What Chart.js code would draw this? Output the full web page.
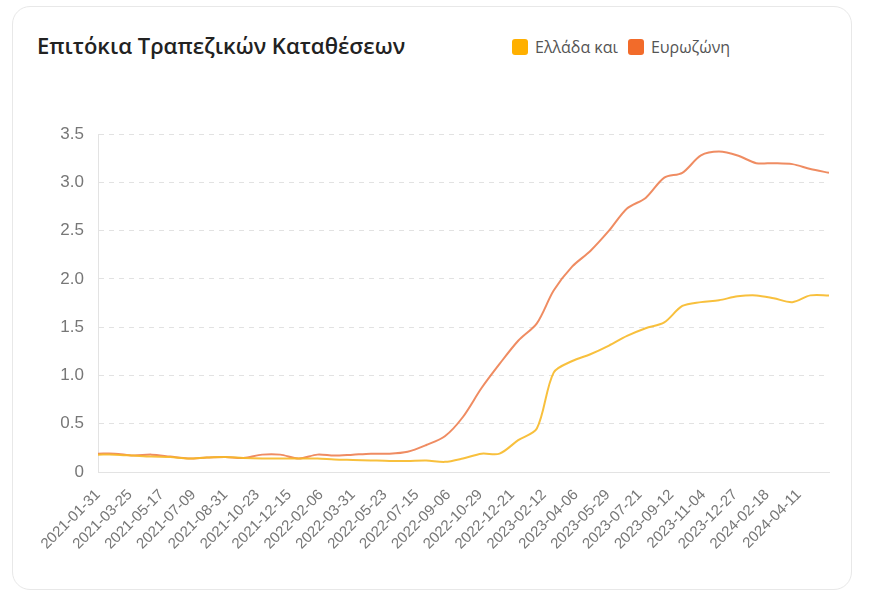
<!DOCTYPE html>
<html>
<head>
<meta charset="utf-8">
<script src="https://cdn.jsdelivr.net/npm/chart.js@4/dist/chart.umd.min.js"></script>
<style>
  body { margin: 0; background: #fff; width: 876px; height: 608px; overflow: hidden; }
  .card { position: absolute; left: 12px; top: 6px; width: 838px; height: 582px;
          border: 1px solid #e8e8e8; border-radius: 18px; background: #fff; }
  .title { position: absolute; left: 24px; top: 23px; font: 600 22px "Open Sans", sans-serif; color: #222; }
  .legend { position: absolute; left: 499px; top: 29px; font: 16px "Open Sans", sans-serif; color: #555; display: flex; align-items: center; }
  .legend span.box { display: inline-block; width: 16px; height: 16px; border-radius: 3px; margin-right: 7px; }
  .legend span.item { display: flex; align-items: center; margin-right: 10px; }
  .wrap { position: absolute; left: 8px; top: 103px; width: 830px; height: 480px; }
</style>
</head>
<body>
<div class="card">
  <div class="title">Επιτόκια Τραπεζικών Καταθέσεων</div>
  <div class="legend" id="legend"></div>
  <div class="wrap"><canvas id="chart" width="830" height="480"></canvas></div>
</div>
<script>
// month-end dates of the series
var dates = [
  '2021-01-31','2021-02-28','2021-03-31','2021-04-30','2021-05-31','2021-06-30',
  '2021-07-31','2021-08-31','2021-09-30','2021-10-31','2021-11-30','2021-12-31',
  '2022-01-31','2022-02-28','2022-03-31','2022-04-30','2022-05-31','2022-06-30',
  '2022-07-31','2022-08-31','2022-09-30','2022-10-31','2022-11-30','2022-12-31',
  '2023-01-31','2023-02-28','2023-03-31','2023-04-30','2023-05-31','2023-06-30',
  '2023-07-31','2023-08-31','2023-09-30','2023-10-31','2023-11-30','2023-12-31',
  '2024-01-31','2024-02-29','2024-03-31','2024-04-30','2024-05-31'
];

var greece = [
  0.18, 0.18, 0.17, 0.16, 0.155, 0.14, 0.15, 0.155, 0.145, 0.14, 0.14, 0.14,
  0.14, 0.13, 0.125, 0.12, 0.115, 0.115, 0.12, 0.105, 0.14, 0.19, 0.19, 0.33,
  0.45, 1.03, 1.15, 1.22, 1.31, 1.41, 1.49, 1.55, 1.72, 1.76, 1.78, 1.82,
  1.83, 1.80, 1.76, 1.83, 1.83
];

var eurozone = [
  0.19, 0.19, 0.17, 0.18, 0.16, 0.14, 0.15, 0.155, 0.145, 0.18, 0.18, 0.14,
  0.18, 0.17, 0.18, 0.19, 0.19, 0.21, 0.28, 0.37, 0.57, 0.87, 1.12, 1.36,
  1.54, 1.88, 2.13, 2.29, 2.50, 2.73, 2.84, 3.05, 3.10, 3.28, 3.32, 3.28,
  3.20, 3.20, 3.19, 3.14, 3.10
];

var seriesNames = ['Ελλάδα και', 'Ευρωζώνη'];
var lineColors = ['rgba(247,185,40,0.9)', 'rgba(236,120,70,0.85)'];
var boxColors = ['#ffb000', '#f26b2a'];

var yTicks = [0, 0.5, 1, 1.5, 2, 2.5, 3, 3.5];
var tickStepDays = 53;

var DAY = 864e5;
var start = Date.parse(dates[0]);
function dayOf(s) { return Math.round((Date.parse(s) - start) / DAY); }
function dateOf(d) { return new Date(start + d * DAY).toISOString().slice(0, 10); }

function points(vals) {
  return vals.map(function (v, i) { return { x: dayOf(dates[i]), y: v }; });
}

// html legend
var leg = document.getElementById('legend');
seriesNames.forEach(function (n, i) {
  var it = document.createElement('span');
  it.className = 'item';
  it.innerHTML = '<span class="box" style="background:' + boxColors[i] + '"></span>' + n;
  leg.appendChild(it);
});

var ctx = document.getElementById('chart').getContext('2d');
new Chart(ctx, {
  type: 'line',
  data: {
    datasets: [greece, eurozone].map(function (vals, i) {
      return {
        label: seriesNames[i],
        data: points(vals),
        borderColor: lineColors[i],
        backgroundColor: boxColors[i],
        borderWidth: 2,
        pointRadius: 0,
        tension: 0.3,
        fill: false
      };
    })
  },
  options: {
    responsive: false,
    animation: false,
    layout: { padding: { top: 6, right: 22, left: 0, bottom: 0 } },
    plugins: { legend: { display: false }, tooltip: { enabled: false } },
    scales: {
      x: {
        type: 'linear',
        min: 0,
        max: dayOf(dates[dates.length - 1]),
        grid: { display: false },
        border: { display: true, color: '#e3e3e3', width: 1 },
        afterFit: function (s) { s.height = 118; },
        ticks: {
          stepSize: tickStepDays,
          includeBounds: false,
          maxTicksLimit: 40,
          autoSkip: false,
          minRotation: 45,
          maxRotation: 45,
          padding: 6,
          color: '#777',
          font: { family: 'Liberation Sans, Arial, sans-serif', size: 15 },
          callback: function (v) { return dateOf(v); }
        }
      },
      y: {
        min: yTicks[0],
        max: yTicks[yTicks.length - 1],
        afterFit: function (s) { s.width = 77; },
        afterBuildTicks: function (s) { s.ticks = yTicks.map(function (v) { return { value: v }; }); },
        grid: { color: '#e2e2e2', drawTicks: false },
        border: { display: true, color: '#e3e3e3', dash: [5, 5] },
        ticks: {
          padding: 14,
          color: '#777',
          font: { family: 'Liberation Sans, Arial, sans-serif', size: 17 },
          callback: function (v) { return v === 0 ? '0' : v.toFixed(1); }
        }
      }
    }
  }
});
</script>
</body>
</html>
